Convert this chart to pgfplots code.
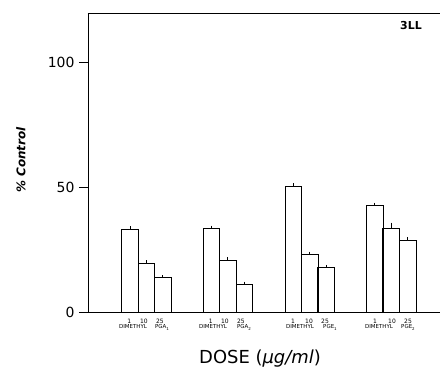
\documentclass[border=0pt]{standalone}
\usepackage{pgfplots}
\pgfplotsset{compat=1.18}
\usepackage{fontspec}
\setmainfont{DejaVu Sans}
\usetikzlibrary{calc}
\newcommand{\sub}[1]{\raisebox{-1.6pt}{\fontsize{4}{4}\selectfont #1}}
\begin{document}
\begin{tikzpicture}
\begin{axis}[name=ax, at={(0,0)}, anchor=south west,
 scale only axis, width=352bp, height=298bp,
 xmin=88, xmax=440, ymin=0, ymax=119.2,
 axis x line*=bottom, axis y line*=left,
 axis line style={line width=1pt, -},
 xtick=\empty, ytick={0,50,100},
 tick align=outside, major tick length=9bp,
 tick style={line width=1pt, black},
 yticklabel style={font=\fontsize{14}{14}\selectfont, xshift=-1bp},
 /pgf/number format/assume math mode=true,
 clip=false,
 ybar, bar width=16.5, bar shift=0pt,
]
\addplot[draw=black, fill=white, line width=0.8pt,
  error bars/.cd, y dir=plus, y explicit, error mark=-,
  error bar style={line width=0.8pt},
  error mark options={mark size=1.5bp, line width=0.8pt}]
 table[x=x, y=y, y error=e] {
x y e
130.0 33.1 0.6
146.5 19.5 0.6
162.7 13.7 0.5
211.3 33.3 0.7
227.7 20.8 0.6
244.3 11.2 0.4
293.3 50.4 0.6
309.7 23.1 0.5
326.0 17.7 0.6
374.7 42.5 0.7
391.0 33.6 1.6
407.7 28.7 0.7
};
\draw[line width=1pt] (rel axis cs:0,1) -- (rel axis cs:1,1);
% dose labels
\begin{scope}[every node/.style={font=\fontsize{6}{6}\selectfont, inner sep=0pt}]
\node at (axis cs:129.3,-3.6) {1};
\node at (axis cs:144,-3.6) {10};
\node at (axis cs:160,-3.6) {25};
\node at (axis cs:210.7,-3.6) {1};
\node at (axis cs:225,-3.6) {10};
\node at (axis cs:241,-3.6) {25};
\node at (axis cs:293,-3.6) {1};
\node at (axis cs:309,-3.6) {10};
\node at (axis cs:325,-3.6) {25};
\node at (axis cs:375,-3.6) {1};
\node at (axis cs:392,-3.6) {10};
\node at (axis cs:408,-3.6) {25};
\end{scope}
\begin{scope}[every node/.style={font=\fontsize{5.5}{5.5}\selectfont, inner sep=0pt, anchor=base}]
\node at (axis cs:133,-6.6) {DIMETHYL};
\node at (axis cs:213,-6.6) {DIMETHYL};
\node at (axis cs:300,-6.6) {DIMETHYL};
\node at (axis cs:379,-6.6) {DIMETHYL};
\node at (axis cs:162,-6.6) {PGA\sub{1}};
\node at (axis cs:244,-6.6) {PGA\sub{2}};
\node at (axis cs:330,-6.6) {PGE\sub{1}};
\node at (axis cs:408,-6.6) {PGE\sub{2}};
\end{scope}
\node[anchor=base, font=\fontsize{18}{18}\selectfont, inner sep=0pt] at (axis cs:260,-20.4) {DOSE (\textit{μg/ml})};
\node[rotate=90, font=\fontsize{12}{12}\selectfont\bfseries\itshape, inner sep=0pt] at (axis cs:21,60.8) {\% Control};
\node[font=\fontsize{11}{11}\selectfont\bfseries, inner sep=0pt] at (axis cs:411,114.4) {3LL};
\end{axis}
\pgfresetboundingbox
\path[use as bounding box] ($(ax.south west)+(-88bp,-67bp)$) rectangle ($(ax.north east)+(0bp,14bp)$);
\end{tikzpicture}
\end{document}
